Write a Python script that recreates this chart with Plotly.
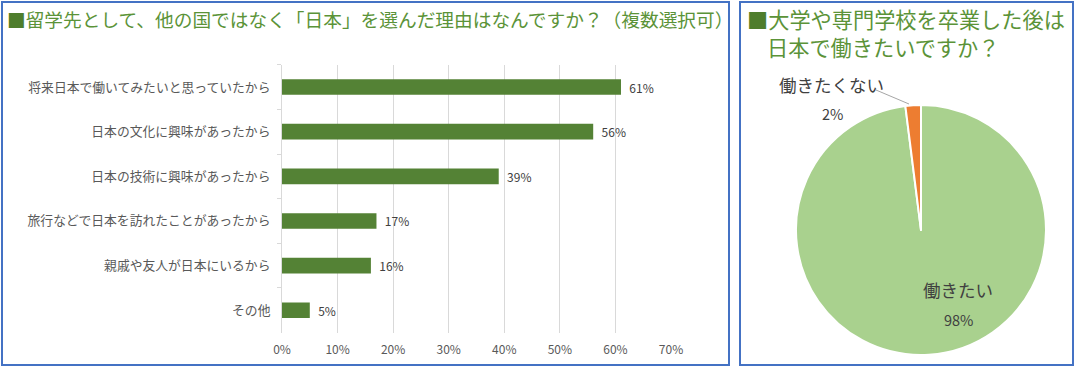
import plotly.graph_objects as go

# ---- data ----
categories = [
    "将来日本で働いてみたいと思っていたから",
    "日本の文化に興味があったから",
    "日本の技術に興味があったから",
    "旅行などで日本を訪れたことがあったから",
    "親戚や友人が日本にいるから",
    "その他",
]
values = [61, 56, 39, 17, 16, 5]
x_tick_vals = [0, 10, 20, 30, 40, 50, 60, 70]
x_tick_text = ["0%", "10%", "20%", "30%", "40%", "50%", "60%", "70%"]

pie_labels = ["働きたい", "働きたくない"]
pie_values = [98, 2]

left_title = "留学先として、他の国ではなく「日本」を選んだ理由はなんですか？（複数選択可）"
right_title_1 = "大学や専門学校を卒業した後は"
right_title_2 = "日本で働きたいですか？"

# ---- layout helpers ----
W, H = 1075, 368
def px(x):
    return x / W
def py(y):
    return 1 - y / H

FONT = "Noto Sans CJK JP, Noto Sans, sans-serif"
BAR_COLOR = "#548235"
TITLE_COLOR = "#5b9338"
SQ_COLOR = "#4e7d2c"
BORDER = "#4472c4"
GRID = "#d9d9d9"

fig = go.Figure()

fig.add_trace(go.Bar(
    y=categories,
    x=values,
    orientation="h",
    marker=dict(color=BAR_COLOR, line=dict(width=0)),
    width=0.35,
    text=["  " + f"{v}%" for v in values],
    textposition="outside",
    constraintext="none",
    textfont=dict(family=FONT, size=12, color="#404040"),
    cliponaxis=False,
    showlegend=False,
    hoverinfo="x+y",
))

pie_r = 125
pie_cx, pie_cy = 921, 230
fig.add_trace(go.Pie(
    labels=pie_labels,
    values=pie_values,
    sort=False,
    direction="clockwise",
    rotation=0,
    marker=dict(colors=["#a9d18e", "#ed7d31"], line=dict(color="white", width=2)),
    textinfo="none",
    showlegend=False,
    automargin=False,
    domain=dict(x=[px(pie_cx - pie_r), px(pie_cx + pie_r)],
                y=[py(pie_cy + pie_r), py(pie_cy - pie_r)]),
))

fig.update_layout(
    width=W, height=H,
    autosize=False,
    margin=dict(l=0, r=0, t=0, b=0, pad=0, autoexpand=False),
    paper_bgcolor="white",
    plot_bgcolor="white",
    font=dict(family=FONT, color="#595959"),
    xaxis=dict(
        domain=[px(282), px(671)],
        range=[0, 70],
        tickvals=x_tick_vals,
        ticktext=x_tick_text,
        showgrid=True,
        gridcolor=GRID,
        gridwidth=1,
        zeroline=False,
        showline=False,
        ticks="",
        automargin=False,
        tickfont=dict(family=FONT, size=12, color="#595959"),
        ticklabelstandoff=8,
        fixedrange=True,
    ),
    yaxis=dict(
        domain=[py(332.6), py(64.7)],
        categoryorder="array",
        categoryarray=categories,
        autorange="reversed",
        showgrid=False,
        showline=True,
        linecolor=GRID,
        linewidth=1,
        ticks="outside",
        tickson="boundaries",
        ticklen=4,
        tickcolor=GRID,
        automargin=False,
        tickfont=dict(family=FONT, size=12.8, color="#595959"),
        ticklabelstandoff=8,
        fixedrange=True,
    ),
)

shapes = [
    dict(type="rect", xref="paper", yref="paper",
         x0=px(2), x1=px(729), y0=py(365), y1=py(2),
         line=dict(color=BORDER, width=2)),
    dict(type="rect", xref="paper", yref="paper",
         x0=px(740), x1=px(1073), y0=py(365), y1=py(2),
         line=dict(color=BORDER, width=2)),
    dict(type="line", xref="paper", yref="paper",
         x0=px(876), y0=py(90), x1=px(909), y1=py(104),
         line=dict(color="#a6a6a6", width=1)),
]
fig.update_layout(shapes=shapes)

annotations = [
    dict(xref="paper", yref="paper", x=px(5), y=py(18), xanchor="left", yanchor="middle",
         text=f"<span style='color:{SQ_COLOR}'>■</span>{left_title}",
         showarrow=False, font=dict(family=FONT, size=18.7, color=TITLE_COLOR)),
    dict(xref="paper", yref="paper", x=px(745), y=py(18), xanchor="left", yanchor="middle",
         text=f"<span style='color:{SQ_COLOR}'>■</span>{right_title_1}",
         showarrow=False, font=dict(family=FONT, size=21.2, color=TITLE_COLOR)),
    dict(xref="paper", yref="paper", x=px(765), y=py(46), xanchor="left", yanchor="middle",
         text=right_title_2,
         showarrow=False, font=dict(family=FONT, size=21.2, color=TITLE_COLOR)),
    dict(xref="paper", yref="paper", x=px(958), y=py(289), xanchor="center", yanchor="middle",
         text=pie_labels[0], showarrow=False,
         font=dict(family=FONT, size=17.5, color="#404040")),
    dict(xref="paper", yref="paper", x=px(958), y=py(319), xanchor="center", yanchor="middle",
         text=f"{pie_values[0]}%", showarrow=False,
         font=dict(family=FONT, size=14.5, color="#404040")),
    dict(xref="paper", yref="paper", x=px(831), y=py(84), xanchor="center", yanchor="middle",
         text=pie_labels[1], showarrow=False,
         font=dict(family=FONT, size=17.5, color="#404040")),
    dict(xref="paper", yref="paper", x=px(832), y=py(114), xanchor="center", yanchor="middle",
         text=f"{pie_values[1]}%", showarrow=False,
         font=dict(family=FONT, size=14.5, color="#404040")),
]
fig.update_layout(annotations=annotations)

fig.write_html(
    "out.html",
    config={"displayModeBar": False},
    post_script="document.body.style.margin='0';document.body.style.overflow='hidden';",
)
